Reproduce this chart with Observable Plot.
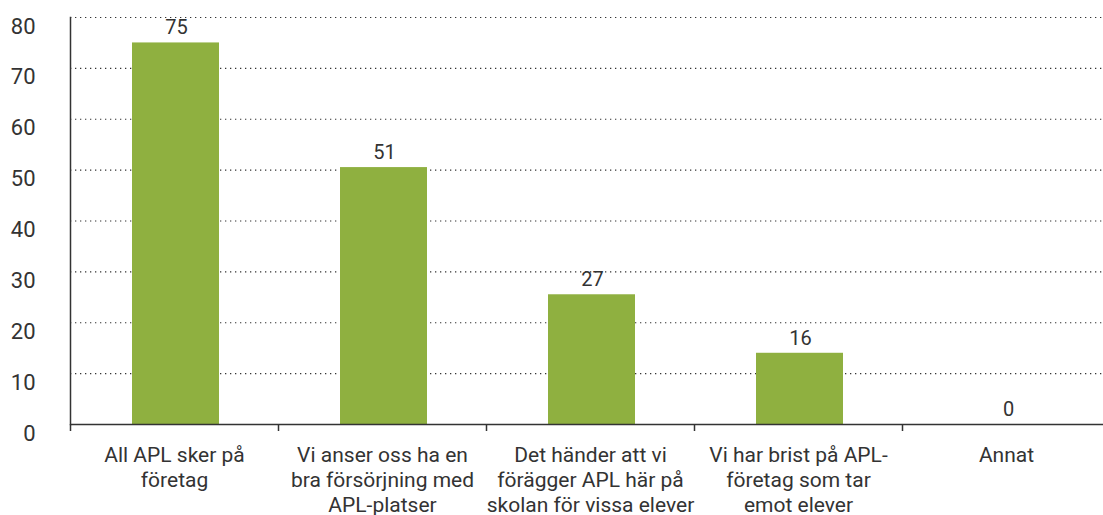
<!DOCTYPE html>
<html><head><meta charset="utf-8">
<script src="https://cdn.jsdelivr.net/npm/d3@7"></script>
<script src="https://cdn.jsdelivr.net/npm/@observablehq/plot@0.6"></script>
<style>body{margin:0;background:#fff}</style>
</head><body><div id="chart"></div>
<script>
const categories = [
  "All APL sker på\nföretag",
  "Vi anser oss ha en\nbra försörjning med\nAPL-platser",
  "Det händer att vi\nförägger APL här på\nskolan för vissa elever",
  "Vi har brist på APL-\nföretag som tar\nemot elever",
  "Annat"
];
const barValues = [75, 50.5, 25.5, 14, 0];   // bar heights as drawn
const labelValues = [75, 51, 27, 16, 0];     // printed labels
const yTicks = [0, 10, 20, 30, 40, 50, 60, 70, 80];

const data = categories.map((c, i) => ({cat: c, v: barValues[i], label: labelValues[i]}));
const ink = "#333333";
const font = "Roboto, sans-serif";

const chart = Plot.plot({
  width: 1103, height: 515,
  marginLeft: 70, marginRight: 0, marginTop: 17, marginBottom: 91,
  style: {fontFamily: font, color: ink, background: "#fff"},
  x: {domain: categories, range: [70, 1110], padding: 0},
  y: {domain: [0, 80]},
  marks: [
    Plot.gridY(yTicks.filter(d => d > 0), {stroke: ink, strokeOpacity: 1, strokeWidth: 1.2, strokeDasharray: "1.3,3.7"}),
    Plot.barY(data, {x: "cat", y: "v", fill: "#8fb040", insetLeft: 62, insetRight: 59}),
    Plot.text(data, {x: "cat", y: "v", text: d => String(d.label), dy: -15, dx: 2, fontSize: 20, fill: ink}),
    Plot.frame({anchor: "left", stroke: ink, strokeWidth: 1.5}),
    Plot.ruleY([0], {stroke: ink, strokeWidth: 1.5}),
    Plot.axisY({ticks: yTicks, tickSize: 0, tickPadding: 35, dy: 9, fontSize: 22, label: null, fill: ink}),
    Plot.axisX({tickSize: 7, dx: -104, tickFormat: () => "", label: null, stroke: ink, strokeWidth: 1.5}),
    Plot.axisX({tickSize: 0, tickPadding: 20, fontSize: 21, lineHeight: 1.19, label: null, fill: ink})
  ]
});
document.getElementById("chart").append(chart);
</script>
</body></html>
